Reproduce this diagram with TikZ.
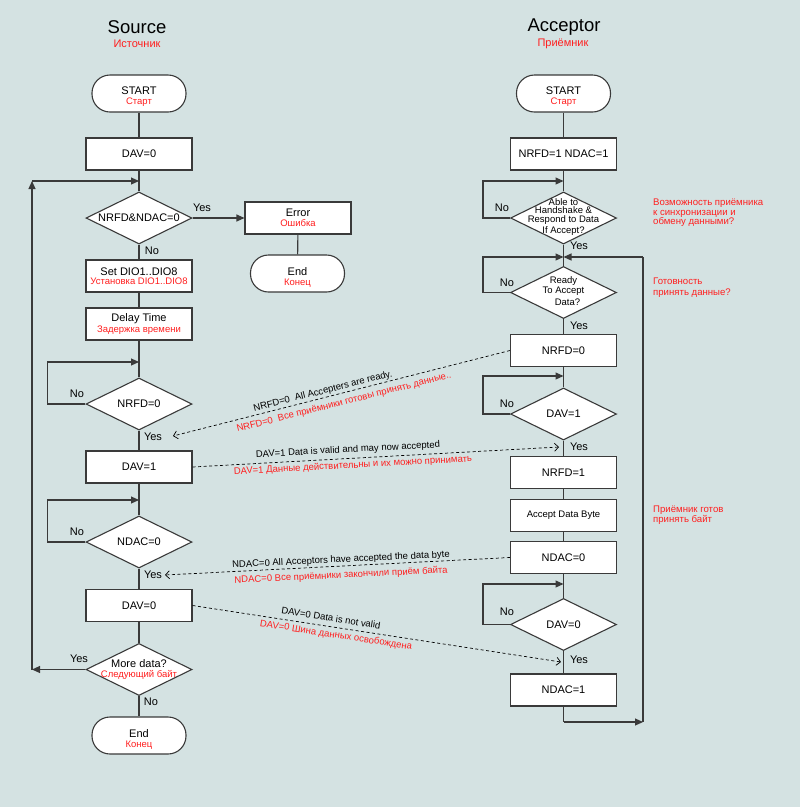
\documentclass[tikz,border=0pt]{standalone}
\usepackage{fontspec}
\setmainfont{Liberation Sans}
\usetikzlibrary{shapes.geometric,arrows.meta}
\definecolor{bg}{HTML}{D4E2E2}
\definecolor{ln}{HTML}{3A3A3A}
\definecolor{rd}{HTML}{FF1F1F}
\newcommand{\myfs}[1]{\fontsize{#1}{#1}\selectfont}
\begin{document}
\begin{tikzpicture}[x=1pt,y=-1pt,
  box/.style={draw=ln, fill=white, line width=1.1pt, minimum width=106pt, minimum height=32pt, inner sep=0pt, align=center, font=\myfs{11}},
  term/.style={draw=ln, fill=white, line width=1.1pt, rounded corners=18pt, minimum width=94pt, minimum height=37pt, inner sep=0pt},
  dec/.style={diamond, draw=ln, fill=white, line width=1.1pt, minimum width=106pt, minimum height=52pt, inner sep=0pt},
  tx/.style={align=center, font=\myfs{11}, inner sep=0pt},
  sm/.style={align=center, font=\myfs{9.5}, inner sep=0pt},
  lbl/.style={font=\myfs{11}, inner sep=0pt},
  note/.style={text=rd, font=\myfs{9.6}, align=left, anchor=west, inner sep=0pt},
  dl/.style={font=\myfs{9.5}, inner sep=0pt},
  dlr/.style={dl, text=rd},
  fl/.style={draw=ln, line width=1.1pt},
  fa/.style={fl, -{Triangle[length=8pt,width=7pt]}},
  da/.style={draw=black, line width=0.7pt, dash pattern=on 3pt off 2.5pt, -{Straight Barb[length=4pt,width=8pt]}},
]
\fill[bg] (0,0) rectangle (800,807);
\useasboundingbox (0,0) rectangle (800,807);

% titles
\node[font=\myfs{18.5}, inner sep=0pt] (srcT) at (137,27) {Source};
\node[font=\myfs{11}, text=rd, inner sep=0pt] (srcR) at (137,44) {Источник};
\node[font=\myfs{18.5}, inner sep=0pt] (accT) at (564,27) {Acceptor};
\node[font=\myfs{11}, text=rd, inner sep=0pt] (accR) at (563,44) {Приёмник};

% ---------- Source column ----------
\node[term] (start1) at (139,93.5) {};
\node[tx] (start1t) at (139,97) {START\\[-1pt]{\color{rd}\myfs{9.5}Старт}};
\node[box] (dav0a) at (139,154) {DAV=0};
\node[dec] (d1) at (139,218) {};
\node[tx] (d1t) at (139,218) {NRFD\&NDAC=0};
\node[box] (err) at (298,218) {Error\\[-1pt]{\color{rd}\myfs{9.5}Ошибка}};
\node[term] (end2) at (297.5,273.5) {};
\node[tx] (end2t) at (297.5,277) {End\\[-1pt]{\color{rd}\myfs{9.5}Конец}};
\node[box] (setdio) at (139,276) {Set DIO1..DIO8\\[-1.5pt]{\color{rd}\myfs{9.5}Установка DIO1..DIO8}};
\node[box] (delay) at (139,324) {Delay Time\\[-0.5pt]{\color{rd}\myfs{9.5}Задержка времени}};
\node[dec] (nrfd0d) at (139,404) {};
\node[tx] (nrfd0dt) at (139,404) {NRFD=0};
\node[box] (dav1L) at (139,467) {DAV=1};
\node[dec] (ndacd) at (139,542) {};
\node[tx] (ndacdt) at (139,542) {NDAC=0};
\node[box] (dav0L) at (139,605.5) {DAV=0};
\node[dec] (more) at (139,669.5) {};
\node[tx] (moret) at (139,669.5) {More data?\\[-1pt]{\color{rd}\myfs{9.5}Следующий байт}};
\node[term] (end1) at (139,735.5) {};
\node[tx] (end1t) at (139,739) {End\\[-1pt]{\color{rd}\myfs{9.5}Конец}};

\coordinate (m1) at (139,181);
\coordinate (c1) at (32,669.5);
\coordinate (c2) at (32,181);
\coordinate (m2) at (139,362);
\coordinate (m3) at (139,500);

\draw[fl] (start1) -- (dav0a);
\draw[fl] (dav0a) -- (d1);
\draw[fl] (d1) -- (setdio);
\draw[fl] (setdio) -- (delay);
\draw[fl] (delay) -- (nrfd0d);
\draw[fl] (nrfd0d) -- (dav1L);
\draw[fl] (dav1L) -- (ndacd);
\draw[fl] (ndacd) -- (dav0L);
\draw[fl] (dav0L) -- (more);
\draw[fl] (more) -- (end1);
\draw[fa] (d1.east) -- (err.west);
\draw[fl] (err) -- (end2);
\draw[fa] (nrfd0d.west) -- ++(-38,0) |- (m2);
\draw[fa] (ndacd.west) -- ++(-38,0) |- (m3);
\draw[fa] (more.west) -- (c1);
\draw[fa] (c1) -- (c2);
\draw[fa] (c2) -- (m1);

\node[lbl] (yes1) at (202,208) {Yes};
\node[lbl] (no1) at (152,251) {No};
\node[lbl] (no2) at (77,394) {No};
\node[lbl] (yes2) at (153,437) {Yes};
\node[lbl] (no3) at (77,532) {No};
\node[lbl] (yes3) at (153,575) {Yes};
\node[lbl] (yes4) at (79,659) {Yes};
\node[lbl] (no4) at (151,702) {No};

% ---------- Acceptor column ----------
\node[term] (start2) at (563.5,93.5) {};
\node[tx] (start2t) at (563.5,97) {START\\[-1pt]{\color{rd}\myfs{9.5}Старт}};
\node[box] (nn1) at (563.5,154) {NRFD=1 NDAC=1};
\node[dec] (able) at (563.5,218) {};
\node[sm] (ablet) at (563.5,217) {Able to\\[-1pt]Handshake \&\\[-1pt]Respond to Data\\[1.5pt]If Accept?};
\node[dec] (ready) at (563.5,292.5) {};
\node[sm] (readyt) at (563.5,291) {Ready\\[0.5pt]To Accept\\[3pt]\hspace*{8pt}Data?};
\node[box] (nrfd0R) at (563.5,350.5) {NRFD=0};
\node[dec] (dav1d) at (563.5,414) {};
\node[tx] (dav1dt) at (563.5,414) {DAV=1};
\node[box] (nrfd1) at (563.5,472.5) {NRFD=1};
\node[box, font=\myfs{9.5}] (accb) at (563.5,515.5) {Accept Data Byte};
\node[box] (ndac0R) at (563.5,557.5) {NDAC=0};
\node[dec] (dav0d) at (563.5,624.5) {};
\node[tx] (dav0dt) at (563.5,624.5) {DAV=0};
\node[box] (ndac1) at (563.5,690) {NDAC=1};

\coordinate (r1) at (563.5,181);
\coordinate (j) at (563.5,257);
\coordinate (r3) at (563.5,376);
\coordinate (r4) at (563.5,584);
\coordinate (bl) at (563.5,722);
\coordinate (br) at (643,722);
\coordinate (tr) at (643,257);

\draw[fl] (start2) -- (nn1);
\draw[fl] (nn1) -- (able);
\draw[fl] (able) -- (ready);
\draw[fl] (ready) -- (nrfd0R);
\draw[fl] (nrfd0R) -- (dav1d);
\draw[fl] (dav1d) -- (nrfd1);
\draw[fl] (nrfd1) -- (accb);
\draw[fl] (accb) -- (ndac0R);
\draw[fl] (ndac0R) -- (dav0d);
\draw[fl] (dav0d) -- (ndac1);
\draw[fl] (ndac1) -- (bl);
\draw[fa] (bl) -- (br);
\draw[fl] (br) -- (tr);
\draw[fa] (tr) -- (j);
\draw[fa] (able.west) -- ++(-27,0) |- (r1);
\draw[fa] (ready.west) -- ++(-27,0) |- (j);
\draw[fa] (dav1d.west) -- ++(-27,0) |- (r3);
\draw[fa] (dav0d.west) -- ++(-27,0) |- (r4);

\node[lbl] (no5) at (502,208) {No};
\node[lbl] (yes5) at (579,246) {Yes};
\node[lbl] (no6) at (507,283) {No};
\node[lbl] (yes6) at (579,326) {Yes};
\node[lbl] (no7) at (507,404) {No};
\node[lbl] (yes7) at (579,447) {Yes};
\node[lbl] (no8) at (507,612) {No};
\node[lbl] (yes8) at (579,660) {Yes};

\node[note] (n1) at (653,213) {Возможность приёмника\\к синхронизации и\\обмену данными?};
\node[note] (n2) at (653,287.5) {Готовность\\[1pt]принять данные?};
\node[note] (n3) at (653,515.5) {Приёмник готов\\[0.5pt]принять байт};

% ---------- dashed handshake arrows ----------
\coordinate (y1) at (173,436);
\coordinate (y2) at (559,447);
\coordinate (y3) at (165,575);
\coordinate (y4) at (561,662);
\draw[da] (nrfd0R.west) -- (y1);
\draw[da] (dav1L.east) -- (y2);
\draw[da] (ndac0R.west) -- (y3);
\draw[da] (dav0L.east) -- (y4);

\node[dl, rotate=14.2] (l1b) at (323,391.5) {NRFD=0~ All Accepters are ready.};
\node[dlr, rotate=14.2] (l1r) at (344,402.5) {NRFD=0~ Все приёмники готовы принять данные..};
\node[dl, rotate=3.1] (l2b) at (348,450) {DAV=1 Data is valid and may now accepted};
\node[dlr, rotate=3.1] (l2r) at (353,465.5) {DAV=1 Данные действительны и их можно принимать};
\node[dl, rotate=2.8] (l3b) at (341,560) {NDAC=0 All Acceptors have accepted the data byte};
\node[dlr, rotate=2.8] (l3r) at (341,575.5) {NDAC=0 Все приёмники закончили приём байта};
\node[dl, rotate=-8.8] (l4b) at (331,618) {DAV=0 Data is not valid};
\node[dlr, rotate=-8.8] (l4r) at (336,635.5) {DAV=0 Шина данных освобождена};
\end{tikzpicture}
\end{document}
